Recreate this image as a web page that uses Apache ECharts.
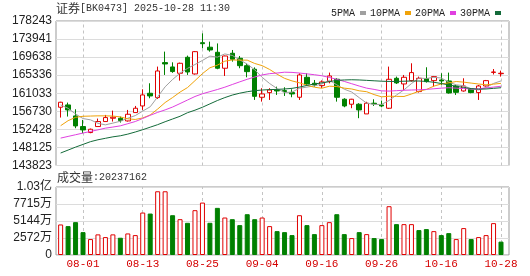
<!DOCTYPE html>
<html><head><meta charset="utf-8">
<script src="https://cdn.jsdelivr.net/npm/echarts@6/dist/echarts.min.js"></script>
<style>html,body{margin:0;padding:0;background:#fff}#c{width:530px;height:276px}</style>
</head><body><div id="c"></div>
<script>
const dates = ['07-29','07-30','07-31','08-01','08-04','08-05','08-06','08-07','08-08','08-11','08-12','08-13','08-14','08-15','08-18','08-19','08-20','08-21','08-22','08-25','08-26','08-27','08-28','08-29','09-01','09-02','09-03','09-04','09-05','09-08','09-09','09-10','09-11','09-12','09-15','09-16','09-17','09-18','09-19','09-22','09-23','09-24','09-25','09-26','09-29','09-30','10-09','10-10','10-13','10-14','10-15','10-16','10-17','10-20','10-21','10-22','10-23','10-24','10-27','10-28'];
const openV  = [157700,158250,155630,153100,151670,153100,154290,155080,155080,154440,156430,158010,161030,160000,168330,167300,165790,169600,165630,173080,172000,170790,166990,170560,169370,167600,166750,160080,161180,161820,161660,161190,160080,164840,163420,162850,163800,164370,159610,158420,158420,156110,158660,158250,157460,164600,163250,164040,161430,164520,164040,164200,163960,162770,161580,161980,161190,162770,166000,165700];
const closeV = [158890,157060,153250,152300,152460,154290,155240,155320,154520,156030,157460,160630,160390,166340,168010,166200,168170,166100,170940,172840,171340,166990,169910,169130,167600,166180,160300,160870,161820,161580,161420,160870,165390,163250,163010,163730,165150,160080,158010,159610,157060,158660,158500,158010,164360,163500,164840,165950,164600,163800,165000,163960,161100,161250,162770,161190,162770,164040,166100,165800];
const lowV   = [155240,155480,152700,151510,151510,153100,154290,154290,154050,154290,156430,157060,159840,159680,165390,165900,164040,165400,165470,171750,170940,166750,165150,168560,166990,164840,159450,159040,159440,160630,160390,160080,159440,163010,162600,162300,163400,159040,157700,157470,155090,156110,158010,157700,157300,163250,161820,163800,161190,163570,162620,163010,160950,160630,161420,161030,159440,162620,165500,165000];
const highV  = [159000,158810,157220,154680,152620,155000,155870,156900,155480,157060,158010,161980,163410,167380,170950,168400,168330,170000,171100,175310,173320,172900,170000,171340,169910,168100,167200,162230,162230,162600,162460,161980,165790,165790,164200,164100,165950,164610,159850,159700,158660,159000,159600,159280,167380,165000,165390,168170,165000,167220,165150,165790,165950,163010,164600,162220,163010,164200,166800,166420];
const volume = [46200000,43700000,49700000,34600000,24100000,31200000,27100000,31200000,26100000,32600000,30100000,64200000,62700000,96400000,96400000,60200000,54200000,48700000,67800000,79300000,48700000,71300000,56700000,54200000,45200000,61700000,54200000,56700000,43700000,36100000,34600000,30100000,60200000,45200000,31600000,45200000,49700000,61700000,31600000,25600000,34600000,31600000,25600000,24100000,73800000,46700000,46700000,46700000,37700000,39200000,36100000,30100000,33100000,24100000,40700000,24100000,27100000,30100000,48200000,20237162];
const ma5  = [158250,157450,156100,155000,154700,153870,153510,153920,154370,155080,155710,156790,157810,160170,162570,164310,165820,166960,167880,168850,169880,169640,170400,170040,168990,167960,166620,164820,163350,162150,161200,161310,162220,162500,162790,163250,164110,163040,162000,161320,159980,158680,158370,158370,159320,160610,161840,163330,164650,164540,164840,164660,163690,163040,162830,162060,161830,162390,163370,163980];
const ma10 = [153300,154500,155300,155550,155600,155650,155650,155600,155400,154940,154790,155150,155860,157270,158820,160010,161310,162390,164030,165710,167100,167730,168680,168960,168920,168920,168130,167610,166700,165570,164580,163970,163520,162930,162470,162220,162710,162630,162250,162050,161620,161400,160710,160180,160320,160290,160260,160850,161510,161930,162720,163250,163510,163830,163680,163450,163240,163050,163200,163400];
const ma20 = [150350,150750,151150,151550,151930,152320,152720,152980,153270,153780,154300,155020,155780,156480,157070,157750,158580,159420,160260,160910,161420,161920,162480,163120,163750,164360,164900,165400,165700,165850,166050,166000,165850,165650,165450,165200,164800,164350,163850,163300,162750,162250,161950,161600,161550,161650,161750,161800,161850,161950,162100,162250,162350,162250,162150,162050,162100,162300,162500,162700];
const ma30 = [146800,147500,148200,148850,149500,149950,150300,150650,150900,151300,151800,152350,152950,153550,154250,154900,155550,156400,157000,157700,158500,159300,160000,160600,161050,161400,161650,161800,161900,161950,162050,162200,162500,162900,163250,163500,163800,164100,164200,164250,164200,164100,164000,163900,163850,163850,163900,163950,163950,163850,163650,163350,163000,162700,162400,162150,162000,162050,162200,162350];
const priceTicks = [143823,148125,152428,156730,161033,165336,169638,173941,178243];
const dateTickIdx = [3,11,19,27,35,43,51,59];
const volMax = 102870000;
const volStep = 25717500;
const maNames = ['5PMA','10PMA','20PMA','30PMA'];

const RED = '#e00000', GREEN = '#008000';
const maColors = ['#a0a0a0','#f0a30a','#e040e0','#146b3a'];
const maData = [ma5, ma10, ma20, ma30];

const candleData = dates.map((d, i) => [i, openV[i], closeV[i], lowV[i], highV[i]]);
const volData = volume.map((v, i) => {
  const prev = i > 0 ? closeV[i - 1] : openV[i];
  const up = closeV[i] >= prev;
  return {value: [i, v], itemStyle: up ? {color: '#fff', borderColor: RED, borderWidth: 1} : {color: GREEN, borderColor: GREEN, borderWidth: 1}};
});

const sans = 'Liberation Sans, Noto Sans CJK SC';
const mono = 'Liberation Mono';
const xMin = -0.62, xMax = 60.07;
function xAxisCfg(grid, showLabel) {
  return {
    type: 'value', gridIndex: grid, min: xMin, max: xMax,
    axisLine: {show: false},
    axisTick: {show: false, customValues: dateTickIdx},
    axisLabel: {show: showLabel, customValues: dateTickIdx, formatter: v => dates[Math.round(v)] || '', color: '#d40000', fontFamily: mono, fontSize: 11, margin: 4},
    splitLine: {show: false}
  };
}
const vLines = {
  silent: true, symbol: 'none', z: 1, animation: false,
  label: {show: false},
  lineStyle: {color: '#c4c4c4', type: [3, 3], width: 1},
  emphasis: {disabled: true},
  data: dateTickIdx.map(i => ({xAxis: i}))
};

const chart = echarts.init(document.getElementById('c'), null, {renderer: 'canvas', width: 530, height: 276});
const option = {
  animation: false,
  backgroundColor: '#fff',
  grid: [
    {left: 56, top: 21, width: 453, height: 144.5, show: true, borderColor: '#999', borderWidth: 1, backgroundColor: 'transparent'},
    {left: 56, top: 187, width: 453, height: 68, show: true, borderColor: '#999', borderWidth: 1, backgroundColor: 'transparent'}
  ],
  legend: {
    left: 326, top: 2, itemWidth: 6, itemHeight: 4, itemGap: 4, align: 'right', icon: 'rect', selectedMode: false,
    textStyle: {fontFamily: mono, fontSize: 10, color: '#222', lineHeight: 12},
    data: maNames
  },
  graphic: [
    {type: 'text', left: 56, top: 2, style: {text: '{a|证券}{b|[BK0473] 2025-10-28 11:30}', rich: {a: {fontFamily: 'Noto Sans CJK SC', fontSize: 12, fill: '#333'}, b: {fontFamily: mono, fontSize: 10, fill: '#333'}}}},
    {type: 'text', left: 57, top: 171, style: {text: '{a|成交量}{b|:' + volume[volume.length - 1] + '}', rich: {a: {fontFamily: 'Noto Sans CJK SC', fontSize: 12, fill: '#333'}, b: {fontFamily: mono, fontSize: 10, fill: '#333'}}}}
  ],
  xAxis: [xAxisCfg(0, false), xAxisCfg(1, true)],
  yAxis: [
    {
      type: 'value', gridIndex: 0, min: priceTicks[0], max: priceTicks[priceTicks.length - 1],
      axisLine: {show: false}, axisTick: {show: false, customValues: priceTicks},
      axisLabel: {customValues: priceTicks, formatter: v => String(Math.round(v)), fontFamily: sans, fontSize: 12, color: '#222', margin: 4},
      splitLine: {show: true, lineStyle: {color: '#dcdcdc', width: 1}}
    },
    {
      type: 'value', gridIndex: 1, min: 0, max: volMax, interval: volStep,
      axisLine: {show: false}, axisTick: {show: false},
      axisLabel: {formatter: v => v === 0 ? '0' : (v >= 1e8 ? (v / 1e8).toFixed(2) + '亿' : Math.round(v / 1e4) + '万'), fontFamily: sans, fontSize: 12, color: '#222', margin: 4},
      splitLine: {show: true, lineStyle: {color: '#dcdcdc', width: 1}}
    }
  ],
  series: [
    {
      type: 'candlestick', xAxisIndex: 0, yAxisIndex: 0, data: candleData, encode: {x: 0, y: [1, 2, 3, 4]},
      barWidth: 5, z: 3,
      itemStyle: {color: '#fff', color0: GREEN, borderColor: RED, borderColor0: GREEN, borderColorDoji: RED, borderWidth: 1},
      markLine: vLines
    },
    ...maNames.map((n, k) => ({
      name: n, type: 'line', xAxisIndex: 0, yAxisIndex: 0, showSymbol: false, symbol: 'none',
      data: maData[k].map((v, i) => [i, v]),
      itemStyle: {color: maColors[k]}, lineStyle: {color: maColors[k], width: 1}, z: 4
    })),
    {type: 'bar', xAxisIndex: 1, yAxisIndex: 1, data: volData, barWidth: 5, z: 3, markLine: vLines}
  ]
};
chart.setOption(option);
</script></body></html>
